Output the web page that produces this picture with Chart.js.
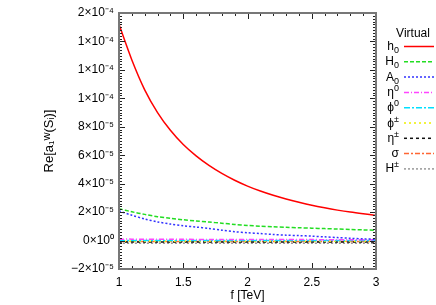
<!DOCTYPE html>
<html>
<head>
<meta charset="utf-8">
<script src="https://cdn.jsdelivr.net/npm/chart.js@4"></script>
<style>
  html, body { margin: 0; padding: 0; background: #fff; }
  #wrap { width: 436px; height: 305px; }
</style>
</head>
<body>
<div id="wrap"><canvas id="chart" width="436" height="305"></canvas></div>
<script>
const fValues = [1, 1.1, 1.2, 1.3, 1.4, 1.5, 1.6, 1.7, 1.8, 1.9, 2, 2.1, 2.2, 2.3, 2.4, 2.5, 2.6, 2.7, 2.8, 2.9, 3];

const h0   = [1.52e-4, 1.27e-4, 1.06e-4, 9.0e-5, 7.75e-5, 6.75e-5, 5.95e-5, 5.28e-5, 4.72e-5, 4.24e-5, 3.83e-5, 3.48e-5, 3.18e-5, 2.92e-5, 2.69e-5, 2.48e-5, 2.30e-5, 2.14e-5, 2.00e-5, 1.88e-5, 1.77e-5];
const H0   = [2.24e-5, 2.02e-5, 1.84e-5, 1.68e-5, 1.56e-5, 1.46e-5, 1.38e-5, 1.30e-5, 1.22e-5, 1.13e-5, 1.06e-5, 1.01e-5, 9.7e-6, 9.3e-6, 9.0e-6, 8.7e-6, 8.4e-6, 8.1e-6, 7.8e-6, 7.5e-6, 7.2e-6];
const A0   = [2.08e-5, 1.78e-5, 1.52e-5, 1.31e-5, 1.16e-5, 1.04e-5, 9.5e-6, 8.5e-6, 7.3e-6, 6.2e-6, 5.5e-6, 4.9e-6, 4.3e-6, 3.8e-6, 3.5e-6, 3.1e-6, 2.6e-6, 2.1e-6, 1.6e-6, 1.2e-6, 9e-7];
const eta0 = [1.0e-6, 1.0e-6, 9e-7, 9e-7, 9e-7, 9e-7, 8e-7, 8e-7, 8e-7, 8e-7, 8e-7, 7e-7, 7e-7, 7e-7, 7e-7, 7e-7, 6e-7, 6e-7, 6e-7, 6e-7, 6e-7];
const phi0 = [0, 0, 0, 0, 0, 0, 0, 0, 0, 0, 0, 0, 0, 0, 0, 0, 0, 0, 0, 0, 0];
const phiC = [-5e-7, -5e-7, -5e-7, -5e-7, -5e-7, -5e-7, -5e-7, -5e-7, -5e-7, -5e-7, -5e-7, -5e-7, -5e-7, -5e-7, -5e-7, -5e-7, -5e-7, -5e-7, -5e-7, -5e-7, -5e-7];
const etaC = [-1.0e-6, -1.0e-6, -1.0e-6, -1.0e-6, -1.0e-6, -1.0e-6, -1.0e-6, -1.0e-6, -1.0e-6, -1.0e-6, -1.0e-6, -1.0e-6, -1.0e-6, -1.0e-6, -1.0e-6, -1.0e-6, -1.0e-6, -1.0e-6, -1.0e-6, -1.0e-6, -1.0e-6];
const sigma = [-6e-7, -6e-7, -6e-7, -6e-7, -6e-7, -6e-7, -6e-7, -6e-7, -6e-7, -6e-7, -6e-7, -6e-7, -6e-7, -6e-7, -6e-7, -6e-7, -6e-7, -6e-7, -6e-7, -6e-7, -6e-7];
const HC   = [-1.9e-6, -1.9e-6, -1.9e-6, -1.9e-6, -1.9e-6, -1.9e-6, -1.9e-6, -1.9e-6, -1.9e-6, -1.9e-6, -1.9e-6, -1.9e-6, -1.9e-6, -1.9e-6, -1.9e-6, -1.9e-6, -1.9e-6, -1.9e-6, -1.9e-6, -1.9e-6, -1.9e-6];

const xTickValues = [1, 1.5, 2, 2.5, 3];
const xTickLabels = ['1', '1.5', '2', '2.5', '3'];
const yTickValues = [-2e-5, 0, 2e-5, 4e-5, 6e-5, 8e-5, 1e-4, 1.2e-4, 1.4e-4, 1.6e-4];
const yTickLabels = ['\u22122\u00d710\u207b\u2075', '0\u00d710\u2070', '2\u00d710\u207b\u2075', '4\u00d710\u207b\u2075', '6\u00d710\u207b\u2075', '8\u00d710\u207b\u2075', '1\u00d710\u207b\u2074', '1\u00d710\u207b\u2074', '1\u00d710\u207b\u2074', '2\u00d710\u207b\u2074'];

// legend label: [base, script, 'sub'|'sup']
const series = [
  { lab: ['h', '0', 'sub'], data: h0,    color: '#ff0000', dash: [] },
  { lab: ['H', '0', 'sub'], data: H0,    color: '#22dd22', dash: [4, 2] },
  { lab: ['A', '0', 'sub'], data: A0,    color: '#3333ff', dash: [2, 2] },
  { lab: ['\u03b7', '0', 'sup'], data: eta0, color: '#ff44ff', dash: [5, 2, 1, 2] },
  { lab: ['\u03d5', '0', 'sup'], data: phi0, color: '#00e0ff', dash: [6, 2, 2, 2] },
  { lab: ['\u03d5', '\u00b1', 'sup'], data: phiC, color: '#eeee00', dash: [2, 3] },
  { lab: ['\u03b7', '\u00b1', 'sup'], data: etaC, color: '#111111', dash: [3, 3] },
  { lab: ['\u03c3', '', 'sup'], data: sigma, color: '#ff6633', dash: [5, 2, 2, 2] },
  { lab: ['H', '\u00b1', 'sup'], data: HC,   color: '#999999', dash: [2, 2] },
];

const font = 'Liberation Sans';

const frame = {
  id: 'frame',
  afterDraw(chart) {
    const { ctx, chartArea: a, scales: { x, y } } = chart;
    ctx.save();
    // inner ticks, gnuplot style
    ctx.strokeStyle = '#222';
    ctx.lineWidth = 1;
    ctx.beginPath();
    for (let i = 0; i <= 20; i++) {
      const px = Math.round(x.getPixelForValue(1 + i * 0.1)) + 0.5;
      const len = i % 5 === 0 ? 6 : 3;
      ctx.moveTo(px, a.bottom); ctx.lineTo(px, a.bottom - len);
      ctx.moveTo(px, a.top); ctx.lineTo(px, a.top + len);
    }
    for (let i = 0; i <= 90; i++) {
      const py = Math.round(y.getPixelForValue(-2e-5 + i * 2e-6)) + 0.5;
      const len = i % 10 === 0 ? 6 : 3;
      ctx.moveTo(a.left, py); ctx.lineTo(a.left + len, py);
      ctx.moveTo(a.right, py); ctx.lineTo(a.right - len, py);
    }
    ctx.stroke();
    ctx.strokeStyle = '#777';
    ctx.lineWidth = 2;
    ctx.strokeRect(a.left, a.top, a.right - a.left, a.bottom - a.top);

    // legend
    ctx.fillStyle = '#000';
    ctx.font = '12px ' + font;
    ctx.textAlign = 'center';
    ctx.textBaseline = 'alphabetic';
    ctx.fillText('Virtual', 413, 37);
    series.forEach((s, i) => {
      const yy = 46 + i * 15.3;
      const base0 = yy + 4;
      const [base, scr, kind] = s.lab;
      ctx.font = '9px ' + font;
      const sw = ctx.measureText(scr).width;
      ctx.font = '12px ' + font;
      const bw = ctx.measureText(base).width;
      const right = 399;
      ctx.textAlign = 'left';
      ctx.fillText(base, right - sw - bw, base0);
      ctx.font = '9px ' + font;
      ctx.fillText(scr, right - sw, kind === 'sub' ? base0 + 3 : base0 - 5);
      ctx.strokeStyle = s.color;
      ctx.lineWidth = 1.5;
      ctx.setLineDash(s.dash);
      ctx.beginPath();
      ctx.moveTo(404, yy + 0.5); ctx.lineTo(434, yy + 0.5);
      ctx.stroke();
      ctx.setLineDash([]);
    });
    ctx.restore();
  }
};

new Chart(document.getElementById('chart'), {
  type: 'line',
  data: {
    datasets: series.map(s => ({
      data: s.data.map((v, i) => ({ x: fValues[i], y: v })),
      borderColor: s.color,
      borderWidth: 1.5,
      borderDash: s.dash,
      pointRadius: 0,
      tension: 0.3,
      fill: false,
    })),
  },
  options: {
    responsive: false,
    animation: false,
    layout: { padding: { left: 0, top: 13, right: 60, bottom: 0 } },
    plugins: { legend: { display: false }, tooltip: { enabled: false } },
    scales: {
      x: {
        type: 'linear', min: 1, max: 3,
        afterFit: s => { s.height = 36; },
        afterBuildTicks: s => { s.ticks = xTickValues.map(v => ({ value: v })); },
        ticks: {
          color: '#000', padding: 6, maxRotation: 0,
          font: { family: font, size: 12 },
          callback: (v, i) => xTickLabels[i],
        },
        grid: { display: false, drawTicks: false },
        border: { display: false },
        title: { display: true, text: 'f [TeV]', color: '#000', font: { family: font, size: 12 }, padding: { top: 0, bottom: 2 } },
      },
      y: {
        type: 'linear', min: -2e-5, max: 1.6e-4,
        afterFit: s => { s.width = 119; },
        afterBuildTicks: s => { s.ticks = yTickValues.map(v => ({ value: v })); },
        ticks: {
          color: '#000', padding: 5,
          font: { family: font, size: 12 },
          callback: (v, i) => yTickLabels[i],
        },
        grid: { display: false, drawTicks: false },
        border: { display: false },
        title: { display: true, text: 'Re[a\u2081\u1D42(S\u1D62)]', color: '#000', font: { family: font, size: 13 }, padding: { top: 42, bottom: 0 } },
      },
    },
  },
  plugins: [frame],
});
</script>
</body>
</html>
